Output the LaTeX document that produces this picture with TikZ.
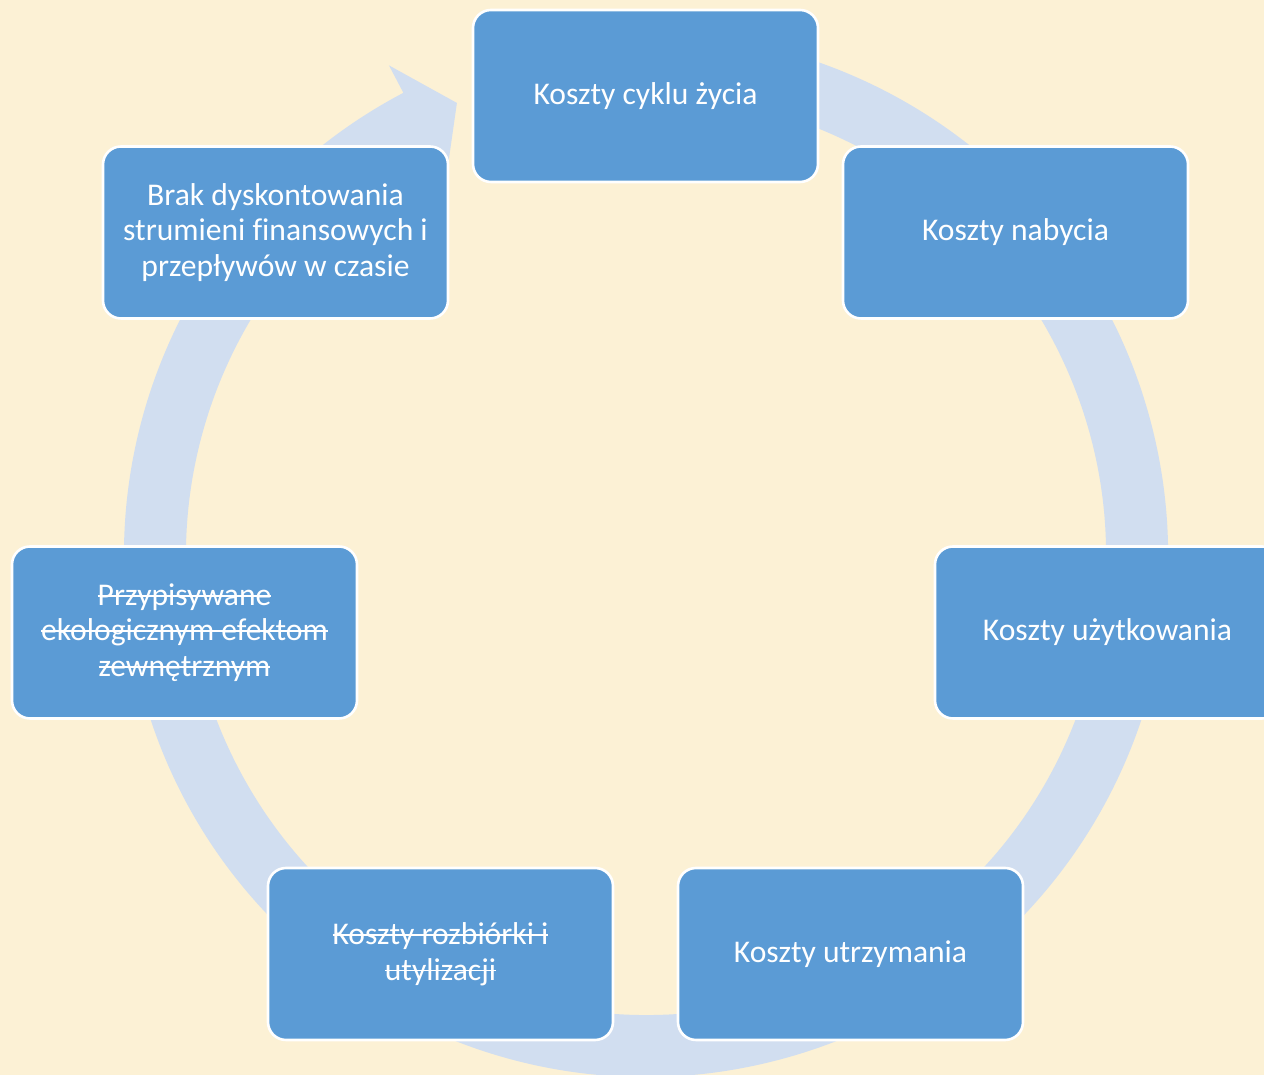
\documentclass[tikz,border=0pt]{standalone}
\usepackage{fontspec}
\setmainfont{Carlito}[Ligatures=NoCommon]
\usetikzlibrary{calc}
\newcommand\strk[1]{\setbox0=\hbox{#1}\rlap{\rule[0.27em]{\wd0}{0.9pt}}\box0}
\definecolor{bgcol}{HTML}{FCF1D5}
\definecolor{ringcol}{HTML}{D1DEF0}
\definecolor{boxcol}{HTML}{5B9BD5}
\tikzset{
  ringshape/.style={fill=ringcol, draw=none},
  cyclebox/.style={draw=white, line width=1.3pt, fill=boxcol, rounded corners=9pt,
    minimum width=172.5pt, minimum height=86pt, inner sep=0pt, align=center,
    text=white, font=\fontsize{15.8pt}{17.75pt}\selectfont}
}
\begin{document}
\begin{tikzpicture}[x=0.5pt,y=0.5pt]
\useasboundingbox (0,0) rectangle (1264,1075);
\clip (0,0) rectangle (1264,1075);
\fill[bgcol] (0,0) rectangle (1264,1075);
\coordinate (C) at (646,520);
% circular arrow
\fill[ringshape] ($(C)+(105:261pt)$) arc[start angle=105, end angle=-242.3, radius=261pt]
  -- ($(C)+(117.7:276.5pt)$) -- ($(C)+(112.7:245pt)$) -- ($(C)+(117.7:214.5pt)$)
  -- ($(C)+(117.7:230pt)$) arc[start angle=-242.3, end angle=105, radius=230pt] -- cycle;
% boxes
\node[cyclebox] (n1) at (645.5,979) {Koszty cyklu życia};
\node[cyclebox] (n2) at (1015.5,842.5) {Koszty nabycia};
\node[cyclebox] (n3) at (1107.5,442.5) {Koszty użytkowania};
\node[cyclebox] (n4) at (850.5,121) {Koszty utrzymania};
\node[cyclebox] (n5) at (440.5,121) {\strk{Koszty rozbiórki i}\\\strk{utylizacji}};
\node[cyclebox] (n6) at (184.5,442.5) {\strk{Przypisywane}\\\strk{ekologicznym efektom}\\\strk{zewnętrznym}};
\node[cyclebox] (n7) at (275.5,842.5) {Brak dyskontowania\\strumieni finansowych i\\przepływów w czasie};
\end{tikzpicture}
\end{document}
